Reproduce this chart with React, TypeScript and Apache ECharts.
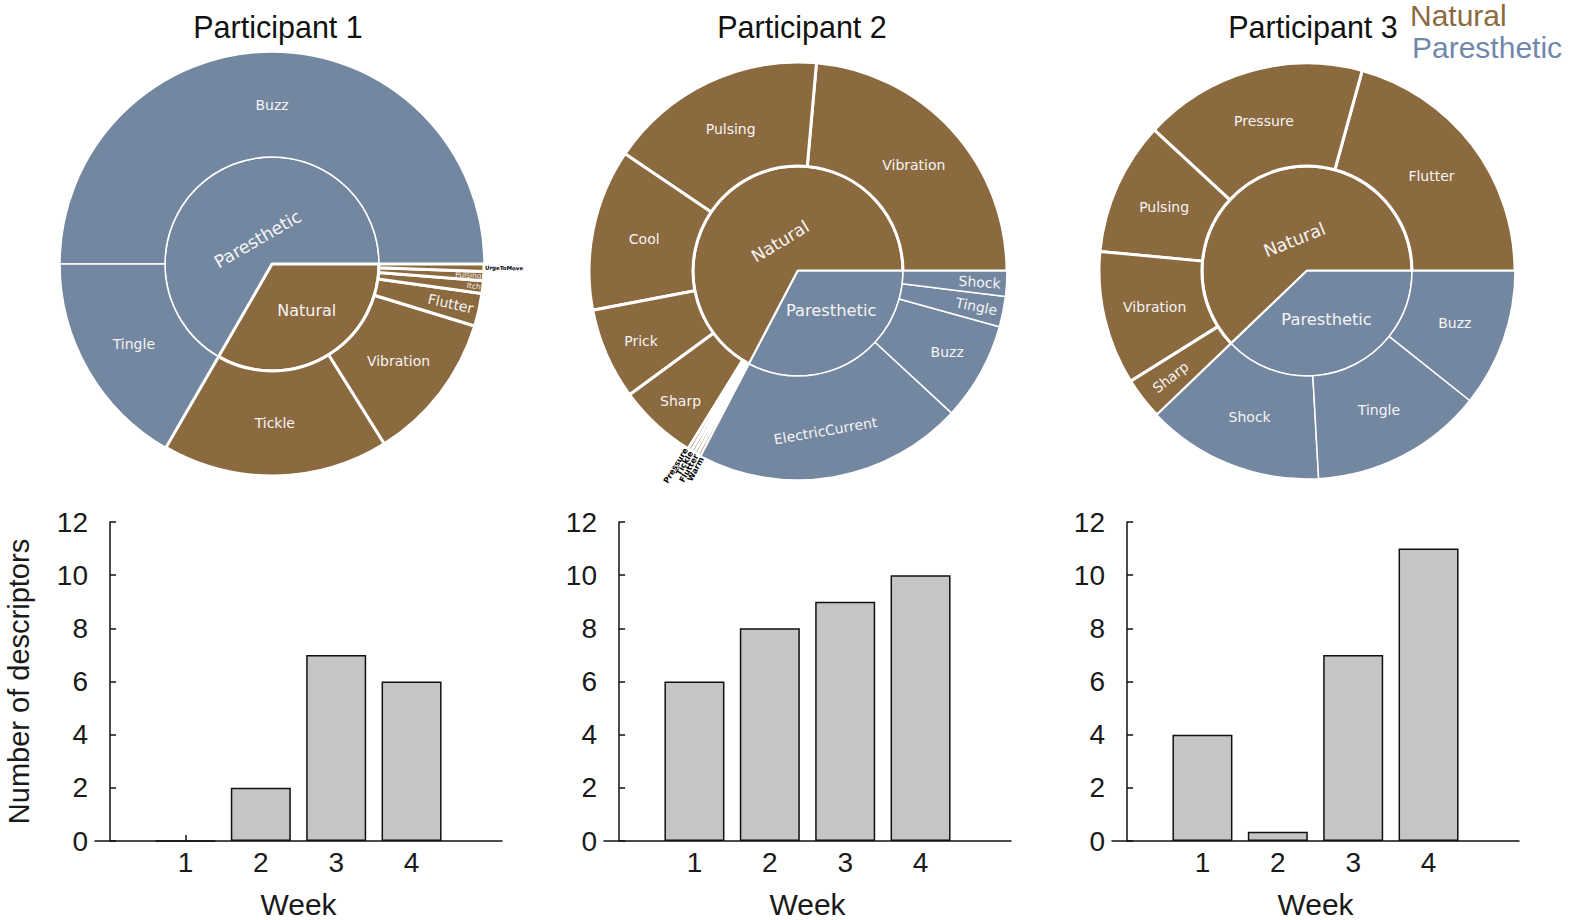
import * as echarts from "echarts";
import { useEffect, useRef } from "react";

// sunburst values (read as sector angles, degrees)
const p1ParNames = ["Buzz", "Tingle"];
const p1ParValues = [180, 60];
const p1NatNames = ["Tickle", "Vibration", "Flutter", "Itch", "Pulsing", "UrgeToMove"];
const p1NatValues = [62, 41, 9, 3.5, 2.5, 2];

const p2NatNames = ["Vibration", "Pulsing", "Cool", "Prick", "Sharp", "Pressure", "Tickle", "Flutter", "Warm"];
const p2NatValues = [85, 61, 45, 25.5, 22, 1, 1, 1, 1];
const p2ParNames = ["ElectricCurrent", "Buzz", "Tingle", "Shock"];
const p2ParValues = [75, 27.3, 8.5, 7];

const p3NatNames = ["Flutter", "Pressure", "Pulsing", "Vibration", "Sharp"];
const p3NatValues = [74.6, 62.7, 37.3, 37.4, 11.8];
const p3ParNames = ["Shock", "Tingle", "Buzz"];
const p3ParValues = [49.4, 48.3, 38.5];

// descriptors per week
const weeks = [1, 2, 3, 4];
const p1Counts = [0, 2, 7, 6];
const p2Counts = [6, 8, 9, 10];
const p3Counts = [4, 0.35, 7, 11];

const titles = ["Participant 1", "Participant 2", "Participant 3"];

const BROWN = "#8c6a3f";
const BLUE = "#7387a1";
const SANS = "Liberation Sans, Arial, sans-serif";
const LABEL_FONT = "DejaVu Sans, Verdana, sans-serif";

const tiny = { rotate: "radial", position: "outside", fontSize: 8, color: "#000", fontWeight: "bold", distance: 1 };

// label tweaks per participant / node
// padding nudges sideways, shift nudges up (-) / down (+) in the label's own frame
const labelTweaks: Record<string, any> = {
	"1/Paresthetic": { rotate: "tangential", fontSize: 17.5, shift: 25 },
	"1/Natural": { fontSize: 16, padding: [0, 0, 0, 16] },
	"1/Flutter": { rotate: "radial", align: "right", distance: 6 },
	"1/Itch": { rotate: "radial", align: "right", fontSize: 7.5, distance: 2 },
	"1/Pulsing": { rotate: "radial", align: "right", fontSize: 7.5, distance: 2 },
	"1/UrgeToMove": { ...tiny, fontSize: 5.5 },
	"2/Natural": { rotate: "tangential", fontSize: 17.3, shift: 18 },
	"2/Paresthetic": { fontSize: 16.3, padding: [0, 0, 0, 12], shift: -5 },
	"2/Prick": { padding: [0, 26, 0, 0], shift: 7 },
	"2/Sharp": { padding: [0, 22, 0, 0], shift: 15 },
	"2/Buzz": { padding: [0, 0, 0, 24], shift: 5 },
	"2/ElectricCurrent": { rotate: "tangential", shift: 5 },
	"2/Tingle": { rotate: "radial", align: "right", distance: 6 },
	"2/Shock": { rotate: "radial", align: "right", distance: 6 },
	"2/Pressure": { ...tiny, shift: -3.6 },
	"2/Tickle": { ...tiny, shift: -1.2 },
	"2/Flutter": { ...tiny, shift: 1.2 },
	"2/Warm": { ...tiny, shift: 3.6 },
	"3/Natural": { rotate: "tangential", fontSize: 17.6, shift: 19 },
	"3/Paresthetic": { fontSize: 16.3 },
	"3/Sharp": { rotate: "radial", padding: [0, 33, 0, 0] },
};

function labelFor(key: string, base: any = {}) {
	const { shift, ...rest } = labelTweaks[key] || {};
	const label: any = { ...base, ...rest };
	if (shift) {
		label.lineHeight = Math.abs(shift) * 2;
		label.formatter = shift > 0 ? "\n{b}" : "{b}\n";
	}
	return label;
}

function group(p: number, name: string, color: string, width: number, names: string[], values: number[]) {
	return {
		name,
		itemStyle: { color, borderColor: "#fff", borderWidth: width },
		label: labelFor(`${p}/${name}`, { fontSize: 16 }),
		children: names.map((n, i) => ({
			name: n,
			value: values[i],
			itemStyle: { color, borderColor: "#fff", borderWidth: width },
			label: labelFor(`${p}/${n}`),
		})),
	};
}

const sunData = [
	[
		group(1, "Paresthetic", BLUE, 1.5, p1ParNames, p1ParValues),
		group(1, "Natural", BROWN, 3, p1NatNames, p1NatValues),
	],
	[
		group(2, "Natural", BROWN, 3, p2NatNames, p2NatValues),
		group(2, "Paresthetic", BLUE, 1.5, p2ParNames, p2ParValues),
	],
	[
		group(3, "Natural", BROWN, 3, p3NatNames, p3NatValues),
		group(3, "Paresthetic", BLUE, 1.5, p3ParNames, p3ParValues),
	],
];

const sunCenters = [
	[272, 264],
	[798, 271],
	[1307, 271],
];
const sunRadii = [
	[107, 212],
	[105, 209],
	[105, 208],
];
const titleX = [278, 802, 1313];

const gridLeft = [95, 604, 1112];
const counts = [p1Counts, p2Counts, p3Counts];

export default function App() {
	const chartRef = useRef<HTMLDivElement>(null);

	useEffect(() => {
		if (!chartRef.current) return;
		const chart = echarts.init(chartRef.current, null, { renderer: "svg" });

		const sunSeries = sunData.map((data, i) => ({
			type: "sunburst",
			center: sunCenters[i],
			radius: [0, sunRadii[i][1]],
			startAngle: 0,
			clockwise: false,
			sort: null,
			nodeClick: false,
			emphasis: { disabled: true },
			label: {
				rotate: 0,
				color: "#f4f4f4",
				fontFamily: LABEL_FONT,
				fontSize: 14,
			},
			levels: [
				{},
				{ r0: 0, r: sunRadii[i][0] },
				{ r0: sunRadii[i][0], r: sunRadii[i][1] },
			],
			data,
		}));

		const barSeries = counts.map((c, i) => ({
			type: "bar",
			xAxisIndex: i,
			yAxisIndex: i,
			barWidth: 60,
			itemStyle: { color: "#c4c5c4", borderColor: "#111", borderWidth: 1.5 },
			data: weeks.map((w, j) => [w, c[j]]),
		}));

		chart.setOption({
			animation: false,
			grid: gridLeft.map((l) => ({
				left: l,
				width: 407,
				top: 522,
				bottom: 77,
			})),
			xAxis: gridLeft.map((_, i) => ({
				type: "value",
				gridIndex: i,
				min: -0.2,
				max: 5.2,
				name: "Week",
				nameLocation: "middle",
				nameGap: 48,
				nameTextStyle: { fontFamily: SANS, fontSize: 30, color: "#1a1a1a" },
				splitLine: { show: false },
				axisLine: { lineStyle: { color: "#111", width: 1.5 } },
				axisTick: {
					inside: true,
					length: 6,
					customValues: weeks,
					lineStyle: { color: "#111", width: 1.5 },
				},
				axisLabel: {
					customValues: weeks,
					margin: 7,
					fontFamily: SANS,
					fontSize: 28,
					color: "#1a1a1a",
				},
			})),
			yAxis: gridLeft.map((_, i) => ({
				type: "value",
				gridIndex: i,
				min: 0,
				max: 12,
				interval: 2,
				name: i === 0 ? "Number of descriptors" : "",
				nameLocation: "middle",
				nameGap: 62,
				nameTextStyle: { fontFamily: SANS, fontSize: 29, color: "#1a1a1a" },
				splitLine: { show: false },
				axisLine: { show: true, lineStyle: { color: "#111", width: 1.5 } },
				axisTick: { show: true, inside: true, length: 6, lineStyle: { color: "#111", width: 1.5 } },
				axisLabel: { margin: 7, fontFamily: SANS, fontSize: 28, color: "#1a1a1a" },
			})),
			graphic: [
				...titles.map((t, i) => ({
					type: "text",
					x: titleX[i],
					y: 27,
					style: {
						text: t,
						fontFamily: SANS,
						fontSize: 30.5,
						fill: "#111",
						align: "center",
						verticalAlign: "middle",
					},
				})),
				{
					type: "text",
					x: 1410,
					y: 15,
					style: { text: "Natural", fontFamily: SANS, fontSize: 30, fill: BROWN, verticalAlign: "middle" },
				},
				{
					type: "text",
					x: 1412,
					y: 47,
					style: { text: "Paresthetic", fontFamily: SANS, fontSize: 30, fill: "#7188ab", verticalAlign: "middle" },
				},
			],
			series: [...sunSeries, ...barSeries],
		});

		return () => {
			chart.dispose();
		};
	}, []);

	return (
		<div
			ref={chartRef}
			style={{ position: "fixed", left: 0, top: 0, width: 1569, height: 920, background: "#fff" }}
		/>
	);
}
